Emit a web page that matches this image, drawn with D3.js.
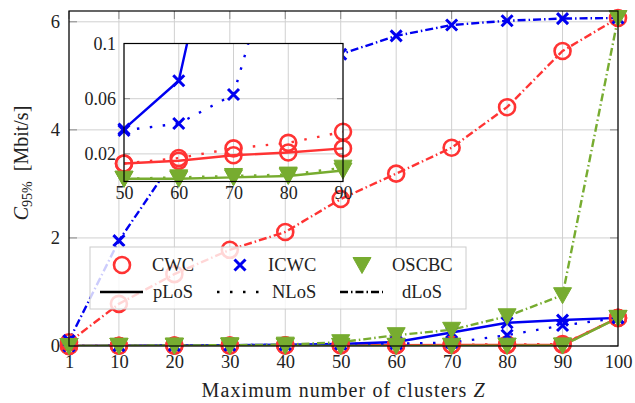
<!DOCTYPE html>
<html><head><meta charset="utf-8">
<script src="https://cdn.jsdelivr.net/npm/d3@7"></script>
<style>body{margin:0;background:#fff}svg{display:block}</style>
</head><body><svg id="c" width="635" height="403"></svg>
<script>
// ---- data ----
const xs = [1,10,20,30,40,50,60,70,80,90,100];
const xTicks = [1,10,20,30,40,50,60,70,80,90,100];
const yTicks = [0,2,4,6];
const insetXTicks = [50,60,70,80,90];
const insetYTicks = [0.02,0.06,0.1];
const cwcPLoS  = [0,0.005,0.007,0.009,0.011,0.013,0.015,0.019,0.021,0.024,0.52];
const icwcPLoS = [0,0.005,0.010,0.015,0.025,0.038,0.073,0.25,0.43,0.48,0.52];
const oscPLoS  = [0,0.001,0.001,0.002,0.002,0.002,0.002,0.003,0.004,0.008,0.52];
const cwcNLoS  = [0,0.005,0.007,0.009,0.011,0.013,0.017,0.024,0.028,0.036,0.52];
const icwcNLoS = [0,0.005,0.010,0.015,0.025,0.037,0.042,0.063,0.20,0.38,0.52];
const oscNLoS  = [0,0.001,0.001,0.002,0.002,0.002,0.003,0.004,0.005,0.010,0.52];
const cwcDLoS  = [0.07,0.78,1.33,1.78,2.11,2.72,3.19,3.67,4.42,5.46,6.07];
const icwcDLoS = [0.10,1.95,3.46,4.3,4.9,5.4,5.74,5.94,6.02,6.06,6.07];
const oscDLoS  = [0,0.005,0.01,0.015,0.025,0.07,0.2,0.3,0.55,0.94,6.07];
const schemes = ["CWC","ICWC","OSCBC"];
const scenarios = ["pLoS","NLoS","dLoS"];

const RED="#ff3333", BLUE="#0000f0", GREEN="#77ac30";
const colors = {CWC:RED, ICWC:BLUE, OSCBC:GREEN};
const dashes = {pLoS:null, NLoS:"2.5,10.5", dLoS:"8,3,1.5,3"};
const series = [
  {s:"CWC",sc:"pLoS",v:cwcPLoS},{s:"ICWC",sc:"pLoS",v:icwcPLoS},{s:"OSCBC",sc:"pLoS",v:oscPLoS},
  {s:"CWC",sc:"NLoS",v:cwcNLoS},{s:"ICWC",sc:"NLoS",v:icwcNLoS},{s:"OSCBC",sc:"NLoS",v:oscNLoS},
  {s:"CWC",sc:"dLoS",v:cwcDLoS},{s:"ICWC",sc:"dLoS",v:icwcDLoS},{s:"OSCBC",sc:"dLoS",v:oscDLoS}
];

const FONT = "'Liberation Serif','DejaVu Serif',serif";
const svg = d3.select("#c");

function marker(g, type, x, y){
  if(type==="CWC"){
    g.append("circle").attr("cx",x).attr("cy",y).attr("r",8).attr("fill","none")
     .attr("stroke",RED).attr("stroke-width",2.6);
  } else if(type==="ICWC"){
    const a=5.5;
    g.append("path").attr("d",`M${x-a},${y-a}L${x+a},${y+a}M${x-a},${y+a}L${x+a},${y-a}`)
     .attr("stroke",BLUE).attr("stroke-width",3).attr("fill","none");
  } else {
    const w=9, h1=7.5;
    g.append("path").attr("d",`M${x-w},${y-h1}L${x+w},${y-h1}L${x},${y+h1+1}Z`)
     .attr("fill",GREEN).attr("stroke",GREEN).attr("stroke-width",1);
  }
}

function drawPlot(g, x, y, clipId, xmin, xmax, ymin, ymax, list){
  const line = d3.line().x(d=>x(d[0])).y(d=>y(d[1]));
  const lines = g.append("g").attr("clip-path",`url(#${clipId})`);
  list.forEach(se=>{
    const pts = xs.map((xv,i)=>[xv,se.v[i]]).filter(p=>p[0]>=xmin&&p[0]<=xmax);
    lines.append("path").datum(pts).attr("d",line).attr("fill","none")
      .attr("stroke",colors[se.s]).attr("stroke-width",2.4)
      .attr("stroke-dasharray",dashes[se.sc]);
    const mg = g.append("g");
    pts.filter(p=>p[1]>=ymin&&p[1]<=ymax).forEach(p=>marker(mg,se.s,x(p[0]),y(p[1])));
  });
}

// ---- main axes ----
const L=69,R=618,T=11,B=346;
const x = d3.scaleLinear().domain([1,100]).range([L,R]);
const y = d3.scaleLinear().domain([0,6.2]).range([B,T]);
const defs = svg.append("defs");
defs.append("clipPath").attr("id","mainclip").append("rect").attr("x",L).attr("y",T).attr("width",R-L).attr("height",B-T);

const grid = svg.append("g").attr("stroke","#d0d0d0").attr("stroke-width",1);
xTicks.forEach(t=>grid.append("line").attr("x1",x(t)).attr("x2",x(t)).attr("y1",T).attr("y2",B));
yTicks.forEach(t=>grid.append("line").attr("x1",L).attr("x2",R).attr("y1",y(t)).attr("y2",y(t)));
const tk = svg.append("g").attr("stroke","#8a8a8a").attr("stroke-width",1);
yTicks.forEach(t=>{tk.append("line").attr("x1",L).attr("x2",L+8).attr("y1",y(t)).attr("y2",y(t));
  tk.append("line").attr("x1",R-8).attr("x2",R).attr("y1",y(t)).attr("y2",y(t));});
xTicks.forEach(t=>{tk.append("line").attr("x1",x(t)).attr("x2",x(t)).attr("y1",T).attr("y2",T+8);});

drawPlot(svg.append("g"), x, y, "mainclip", 1, 100, -1, 10, series);

svg.append("rect").attr("x",L).attr("y",T).attr("width",R-L).attr("height",B-T)
  .attr("fill","none").attr("stroke","#000").attr("stroke-width",1.2);

const xAxis = svg.append("g").attr("transform",`translate(0,${B})`)
  .call(d3.axisBottom(x).tickValues(xTicks).tickSize(0).tickPadding(9).tickFormat(d3.format("d")));
const yAxis = svg.append("g").attr("transform",`translate(${L},0)`)
  .call(d3.axisLeft(y).tickValues(yTicks).tickSize(0).tickPadding(9).tickFormat(d3.format("d")));
[xAxis,yAxis].forEach(a=>{a.select(".domain").remove();
  a.selectAll("text").attr("font-family",FONT).attr("font-size",18.5).attr("fill","#222");});

// ---- inset (pLoS and NLoS only) ----
const iL=124,iR=343,iT=43.5,iB=181.5;
const ix = d3.scaleLinear().domain([50,90]).range([iL,iR]);
const iy = d3.scaleLinear().domain([0,0.1]).range([iB,iT]);
defs.append("clipPath").attr("id","insclip").append("rect").attr("x",iL).attr("y",iT).attr("width",iR-iL).attr("height",iB-iT);
const ins = svg.append("g");
ins.append("rect").attr("x",iL).attr("y",iT).attr("width",iR-iL).attr("height",iB-iT).attr("fill","#fff");
const ig = ins.append("g").attr("stroke","#d0d0d0").attr("stroke-width",1);
insetXTicks.forEach(t=>ig.append("line").attr("x1",ix(t)).attr("x2",ix(t)).attr("y1",iT).attr("y2",iB));
insetYTicks.forEach(t=>ig.append("line").attr("x1",iL).attr("x2",iR).attr("y1",iy(t)).attr("y2",iy(t)));
const itk = ins.append("g").attr("stroke","#8a8a8a").attr("stroke-width",1);
insetYTicks.forEach(t=>{itk.append("line").attr("x1",iL).attr("x2",iL+6).attr("y1",iy(t)).attr("y2",iy(t));
  itk.append("line").attr("x1",iR-6).attr("x2",iR).attr("y1",iy(t)).attr("y2",iy(t));});
drawPlot(ins.append("g"), ix, iy, "insclip", 50, 90, 0, 0.1, series.filter(s=>s.sc!=="dLoS"));
ins.append("rect").attr("x",iL).attr("y",iT).attr("width",iR-iL).attr("height",iB-iT)
  .attr("fill","none").attr("stroke","#000").attr("stroke-width",1.2);
const ixA = ins.append("g").attr("transform",`translate(0,${iB})`)
  .call(d3.axisBottom(ix).tickValues(insetXTicks).tickSize(0).tickPadding(5).tickFormat(d3.format("d")));
const iyA = ins.append("g").attr("transform",`translate(${iL},0)`)
  .call(d3.axisLeft(iy).tickValues(insetYTicks).tickSize(0).tickPadding(8).tickFormat(d=>d===0.1?"0.1":d3.format(".2f")(d)));
[ixA,iyA].forEach(a=>{a.select(".domain").remove();
  a.selectAll("text").attr("font-family",FONT).attr("font-size",18).attr("fill","#222");});

// ---- legend ----
const lg = svg.append("g");
lg.append("rect").attr("x",90).attr("y",247).attr("width",376).attr("height",62)
  .attr("fill","#fff").attr("fill-opacity",0.8).attr("stroke","#cccccc").attr("stroke-width",1);
const row1=265,row2=292;
const mx=[122,240,362], tx=[152,268,392];
schemes.forEach((s,i)=>{
  marker(lg,s,mx[i],row1);
  lg.append("text").attr("x",tx[i]).attr("y",row1+6).text(s);
});
const lx=[[100,143],[217,260],[340,383]], ltx=[153,272,402];
scenarios.forEach((sc,i)=>{
  lg.append("line").attr("x1",lx[i][0]).attr("x2",lx[i][1]).attr("y1",row2).attr("y2",row2)
    .attr("stroke","#000").attr("stroke-width",2.4).attr("stroke-dasharray",dashes[sc]);
  lg.append("text").attr("x",ltx[i]).attr("y",row2+6).text(sc);
});
lg.selectAll("text").attr("font-family",FONT).attr("font-size",18.5).attr("fill","#222");

// ---- axis labels ----
svg.append("text").attr("x",343).attr("y",397).attr("text-anchor","middle")
  .attr("font-family",FONT).attr("font-size",20).attr("fill","#222")
  .attr("textLength",283).attr("lengthAdjust","spacing")
  .html('Maximum number of clusters <tspan font-style="italic">Z</tspan>');
const yl = svg.append("text").attr("transform","translate(28,163) rotate(-90)")
  .attr("text-anchor","middle").attr("font-family",FONT).attr("font-size",20).attr("fill","#222");
yl.append("tspan").attr("font-style","italic").text("C");
yl.append("tspan").attr("font-size",14).attr("dy",4).text("95%");
yl.append("tspan").attr("dy",-4).text("\u2002[Mbit/s]");
</script></body></html>
